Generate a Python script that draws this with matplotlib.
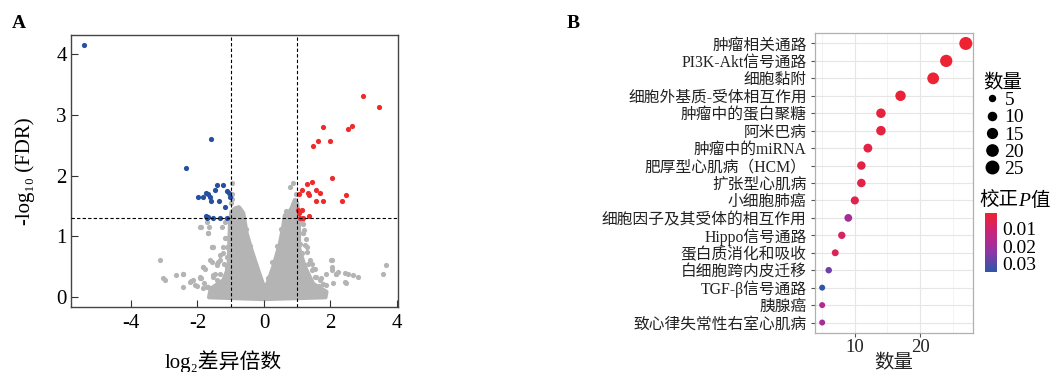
import matplotlib
matplotlib.use('Agg')
import matplotlib.pyplot as plt
import matplotlib.transforms as mtransforms
from matplotlib.colors import LinearSegmentedColormap
from matplotlib.lines import Line2D
import numpy as np

plt.rcParams['font.family'] = ['Liberation Serif', 'DejaVu Serif', 'Noto Sans CJK SC']
plt.rcParams['axes.unicode_minus'] = False

# ---- panel A: volcano ----
up_x = [2.98, 3.45, 1.78, 2.65, 2.54, 1.63, 1.99, 1.47, 2.05, 1.45, 1.30, 1.13, 1.06, 1.33,
        1.36, 1.56, 1.69, 2.47, 1.56, 1.78, 2.36, 1.01, 1.13, 1.06, 1.35, 1.08, 1.16]
up_y = [3.31, 3.13, 2.80, 2.81, 2.77, 2.57, 2.57, 2.49, 1.96, 1.89, 1.86, 1.76, 1.70, 1.72,
        1.68, 1.76, 1.72, 1.68, 1.58, 1.59, 1.58, 1.43, 1.43, 1.38, 1.34, 1.31, 1.31]
down_x = [-5.42, -1.60, -2.34, -1.40, -1.24, -1.47, -1.10, -1.05, -1.75, -1.67, -1.99, -1.82,
          -1.62, -1.58, -1.35, -1.02, -1.17, -1.74, -1.67, -1.72, -1.52, -1.32, -1.12]
down_y = [4.14, 2.60, 2.13, 1.84, 1.84, 1.76, 1.75, 1.71, 1.72, 1.70, 1.65, 1.64,
          1.65, 1.59, 1.59, 1.65, 1.48, 1.34, 1.32, 1.30, 1.31, 1.30, 1.30]
# scattered non-significant genes
grey_x = [-3.12, -3.02, -2.97, -2.64, -2.44, -2.42, -2.20, -1.92, -1.89, -1.82, -1.64, -1.67,
          -1.57, -1.62, -1.37, -1.32, -1.22, -1.27, -1.17, -1.14, -1.10, -1.52, -1.42, -1.67,
          -1.92, -1.30, -1.07, -2.02, -1.84, -1.55, -1.47, -1.42, -1.20, -1.12, -1.72, -1.80,
          -2.12, -0.95, -0.97, -0.80, -0.98, -0.96,
          -1.90, -1.67, -1.72, -1.54, -1.17, -1.22, -1.12, -1.57, -1.42, -1.32, -1.77, -1.12,
          -1.52, -1.32, -1.92, -2.22, -2.42, -2.07, -1.82,
          -0.70, -0.55, -0.42, -0.28, -0.12, 0.12, 0.25, 0.40, 0.52, 0.66,
          1.13, 1.18, 1.08, 1.28, 1.38, 1.20, 1.48, 1.58, 1.78, 1.68, 2.03, 2.18, 2.53, 2.68,
          2.83, 3.58, 3.68, 2.06, 1.33, 1.48, 1.16, 1.20, 1.23, 1.43, 1.53, 1.88, 2.23, 2.07,
          2.48, 1.73, 1.66, 0.78, 0.86, 0.95, 0.95, 0.93, 1.25,
          1.13, 1.18, 1.28, 1.13, 1.33, 1.43, 1.53, 1.68, 2.06, 2.06, 2.18, 2.45, 2.45, 1.88]
grey_y = [0.62, 0.32, 0.29, 0.37, 0.39, 0.17, 0.27, 1.15, 0.31, 0.49, 1.16, 1.05,
          0.83, 0.61, 0.58, 0.69, 0.83, 1.16, 1.24, 0.98, 0.47, 0.33, 0.28, 0.17,
          0.33, 0.19, 0.33, 0.19, 0.49, 0.83, 0.38, 0.55, 0.55, 0.66, 0.17, 0.23,
          0.28, 1.87, 1.70, 1.46, 1.55, 1.62,
          1.16, 1.05, 1.24, 0.83, 0.97, 0.72, 0.83, 0.58, 0.53, 0.61, 0.47, 0.50,
          0.36, 0.39, 0.31, 0.25, 0.39, 0.20, 0.16,
          1.40, 1.12, 0.85, 0.55, 0.28, 0.32, 0.58, 0.85, 1.12, 1.42,
          1.24, 1.05, 0.88, 0.75, 0.61, 0.50, 0.47, 0.33, 0.22, 0.17, 0.61, 0.39, 0.39, 0.37,
          0.34, 0.39, 0.53, 0.45, 0.30, 0.17, 1.21, 1.10, 0.86, 0.55, 0.47, 0.38, 0.42, 0.24,
          0.24, 0.32, 0.18, 1.82, 1.87, 1.70, 1.50, 1.35, 0.95,
          1.27, 1.05, 0.83, 0.72, 0.55, 0.44, 0.33, 0.28, 0.61, 0.50, 0.39, 0.40, 0.25, 0.20]
# outline of the dense cloud of points around zero
cloud_x = [-1.65, -1.60, -1.22, -1.06, -1.04, -1.02, -0.98, -0.87, -0.75, -0.62, -0.52,
           -0.37, -0.17, -0.02, 0.00, 0.02, 0.10, 0.28, 0.48, 0.58, 0.63, 0.73, 0.83, 0.93,
           1.00, 1.05, 1.06, 1.23, 1.48, 1.88, 1.85, 0.00]
cloud_y = [0.00, 0.14, 0.28, 0.50, 0.90, 1.20, 1.40, 1.46, 1.48, 1.38, 1.05,
           0.77, 0.44, 0.20, 0.14, 0.18, 0.22, 0.50, 0.88, 1.16, 1.35, 1.38, 1.46, 1.60,
           1.55, 1.20, 0.80, 0.50, 0.22, 0.09, 0.00, -0.03]
fc_cut = 1
fdr_cut = 0.05

# ---- panel B: KEGG enrichment ----
pathways = ['肿瘤相关通路', 'PI3K-Akt信号通路', '细胞黏附', '细胞外基质-受体相互作用',
            '肿瘤中的蛋白聚糖', '阿米巴病', '肿瘤中的miRNA', '肥厚型心肌病（HCM）',
            '扩张型心肌病', '小细胞肺癌', '细胞因子及其受体的相互作用', 'Hippo信号通路',
            '蛋白质消化和吸收', '白细胞跨内皮迁移', 'TGF-β信号通路', '胰腺癌',
            '致心律失常性右室心肌病']
counts = [27, 24, 22, 17, 14, 14, 12, 11, 11, 10, 9, 8, 7, 6, 5, 5, 5]
padj = [0.0008, 0.0015, 0.0015, 0.002, 0.003, 0.003, 0.004, 0.004, 0.004, 0.005,
        0.019, 0.008, 0.007, 0.027, 0.035, 0.016, 0.019]
size_breaks = [5, 10, 15, 20, 25]
p_ticks = [0.01, 0.02, 0.03]

grey = '#b4b4b4'
red = '#ee2a2a'
blue = '#2450a0'

W, H = 1054, 372
fig = plt.figure(figsize=(W / 100, H / 100), dpi=100)


def box(l, t, r, b):
    return [l / W, 1 - b / H, (r - l) / W, (b - t) / H]


def dot_size(v):
    d = np.sqrt(36 + (np.asarray(v, float) - 5) / 22 * 133)  # pixels
    return (d * 0.72) ** 2


# ---------------- A ----------------
ax = fig.add_axes(box(71, 35, 398, 307))
ax.fill(cloud_x, cloud_y, color=grey, lw=3, joinstyle='round', zorder=1)
ax.scatter(grey_x, grey_y, s=14, color=grey, lw=0, zorder=2)
ax.scatter(down_x, down_y, s=14, color=blue, lw=0, zorder=3)
ax.scatter(up_x, up_y, s=14, color=red, lw=0, zorder=3)
ax.axhline(-np.log10(fdr_cut), ls=(0, (3, 2)), color='k', lw=0.8, zorder=4)
ax.axvline(-fc_cut, ls=(0, (3, 2)), color='k', lw=0.8, zorder=4)
ax.axvline(fc_cut, ls=(0, (3, 2)), color='k', lw=0.8, zorder=4)
ax.set_xlim(-5.8, 4.03)
ax.set_ylim(-0.16, 4.31)
ax.set_xticks([-4, -2, 0, 2, 4])
ax.set_yticks([0, 1, 2, 3, 4])
ax.tick_params(direction='in', length=5, width=0.8, labelsize=15, color='#333333')
ax.tick_params(axis='x', pad=5)
ax.tick_params(axis='y', pad=3)
for sp in ax.spines.values():
    sp.set_color('#444444')
    sp.set_linewidth(1)
ax.set_ylabel('-log₁₀ (FDR)', fontsize=15)
ax.yaxis.set_label_coords(-0.11, 0.5)
ax.set_xlabel('log₂差异倍数', fontsize=15)
ax.xaxis.set_label_coords(0.465, -0.16)
fig.text(19 / W, 1 - 24 / H, 'A', fontsize=14, weight='bold', ha='center', va='center')

# ---------------- B ----------------
cmap = LinearSegmentedColormap.from_list('padj', ['#ee2230', '#c8237e', '#8e36a6', '#2c57a8'])
bx = fig.add_axes(box(815, 33, 973, 333))
ypos = np.arange(len(pathways))
sc = bx.scatter(counts, ypos, s=dot_size(counts), c=padj, cmap=cmap,
                vmin=min(padj), vmax=max(padj), lw=0, zorder=3)
bx.set_ylim(len(pathways) - 0.4, -0.6)
bx.set_xlim(3.9, 28.1)
bx.set_yticks(ypos)
bx.set_yticklabels(pathways, fontsize=11.3, color='#222222')
bx.set_xticks([10, 20])
bx.set_xticks([5, 15, 25], minor=True)
bx.tick_params(axis='x', labelsize=13.5, pad=1, length=3, color='#555555', labelcolor='#222222')
bx.tick_params(axis='y', pad=3, length=3, color='#555555')
bx.tick_params(which='minor', length=0)
bx.grid(which='major', color='#e6e6e6', lw=0.8, zorder=0)
bx.grid(which='minor', axis='x', color='#efefef', lw=0.5, zorder=0)
bx.set_axisbelow(True)
for sp in bx.spines.values():
    sp.set_color('#b0b0b0')
    sp.set_linewidth(0.9)
bx.set_xlabel('数量', fontsize=14, color='#222222')
bx.xaxis.set_label_coords(0.5, -0.072)
fig.text(573 / W, 1 - 23 / H, 'B', fontsize=14, weight='bold', ha='center', va='center')

# size legend
handles = [Line2D([], [], ls='', marker='o', color='k', markersize=np.sqrt(dot_size(v)))
           for v in size_breaks]
fig.legend(handles, [str(v) for v in size_breaks], loc='upper left',
           bbox_to_anchor=(983 / W, 1 - 74 / H), frameon=False, fontsize=14,
           title='数量', title_fontsize=14, alignment='left', handletextpad=0.2,
           labelspacing=-0.02, borderpad=0, borderaxespad=0, handlelength=0.9)

# colour bar
cax = fig.add_axes(box(985, 213, 997, 272))
cb = fig.colorbar(sc, cax=cax)
cb.outline.set_visible(False)
cax.invert_yaxis()
cb.set_ticks(p_ticks)
cax.tick_params(length=0, pad=4, labelsize=14)

# colour bar title with italic P
rend = fig.canvas.get_renderer()
tr = fig.transFigure
for s, st in [('校正', 'normal'), ('P', 'italic'), ('值', 'normal')]:
    t = fig.text(979 / W, 1 - 206 / H, s, transform=tr, fontsize=14, style=st,
                 ha='left', va='baseline')
    ex = t.get_window_extent(renderer=rend)
    tr = mtransforms.offset_copy(t.get_transform(), x=ex.width, units='dots')

fig.savefig('out.png', dpi=100)
